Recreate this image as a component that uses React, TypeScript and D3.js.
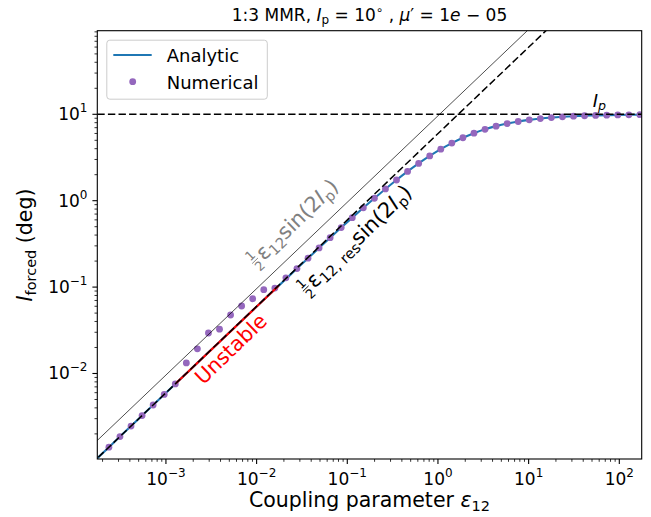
import React from "react";
import * as d3 from "d3";

// ---------- data ----------
// Numerical run: coupling parameter values
const epsilonNum = [
  2.35e-4, 3.112e-4, 4.121e-4, 5.458e-4, 7.228e-4, 9.572e-4, 1.268e-3, 1.679e-3,
  2.223e-3, 2.944e-3, 3.899e-3, 5.164e-3, 6.839e-3, 9.057e-3, 1.1995e-2, 1.589e-2,
  2.104e-2, 2.786e-2, 3.69e-2, 4.887e-2, 6.471e-2, 8.57e-2, 0.1135, 0.1503,
  0.1991, 0.2636, 0.3491, 0.4624, 0.6124, 0.811, 1.074, 1.422,
  1.884, 2.495, 3.304, 4.375, 5.794, 7.674, 10.16, 13.46,
  17.82, 23.61, 31.26, 41.4, 54.83, 72.61, 96.16, 127.4, 168.7,
];
// Numerical forced inclination (deg)
const inclNum = [
  1.404e-3, 1.86e-3, 2.463e-3, 3.262e-3, 4.32e-3, 5.719e-3, 7.571e-3, 1.327e-2,
  1.932e-2, 2.944e-2, 3.258e-2, 4.753e-2, 6.039e-2, 7.328e-2, 9.344e-2, 9.75e-2,
  0.128, 0.1639, 0.216, 0.2841, 0.373, 0.4882, 0.6368, 0.8269,
  1.067, 1.368, 1.737, 2.18, 2.701, 3.294, 3.948, 4.642,
  5.35, 6.044, 6.698, 7.293, 7.817, 8.258, 8.627, 8.927,
  9.167, 9.357, 9.505, 9.619, 9.707, 9.774, 9.826, 9.865, 9.9,
];
// Analytic curve
const epsilonAna = [
  1.75e-4, 2.35e-4, 3.112e-4, 4.121e-4, 5.458e-4, 7.228e-4, 9.572e-4, 1.268e-3, 1.679e-3,
  2.223e-3, 2.944e-3, 3.899e-3, 5.164e-3, 6.839e-3, 9.057e-3, 1.1995e-2, 1.589e-2,
  2.104e-2, 2.786e-2, 3.69e-2, 4.887e-2, 6.471e-2, 8.57e-2, 0.1135, 0.1503,
  0.1991, 0.2636, 0.3491, 0.4624, 0.6124, 0.811, 1.074, 1.422,
  1.884, 2.495, 3.304, 4.375, 5.794, 7.674, 10.16, 13.46,
  17.82, 23.61, 31.26, 41.4, 54.83, 72.61, 96.16, 127.4, 168.7, 176.6,
];
const inclAna = [
  1.046e-3, 1.404e-3, 1.86e-3, 2.463e-3, 3.262e-3, 4.32e-3, 5.719e-3, 7.571e-3, 1.0024e-2,
  1.3271e-2, 1.7567e-2, 2.3252e-2, 3.0773e-2, 4.0717e-2, 5.385e-2, 7.12e-2, 9.408e-2,
  0.1242, 0.1639, 0.216, 0.2841, 0.373, 0.4882, 0.6368, 0.8269,
  1.067, 1.368, 1.737, 2.18, 2.701, 3.294, 3.948, 4.642,
  5.35, 6.044, 6.698, 7.293, 7.817, 8.258, 8.627, 8.927,
  9.167, 9.357, 9.505, 9.619, 9.707, 9.774, 9.826, 9.865, 9.9, 9.903,
];
// Unstable segment on the analytic curve
const epsilonUnstable = [1.3e-3, 1.75e-2];
const inclUnstable = [7.77e-3, 0.1036];
// Reference lines: 1/2 eps sin(2Ip) and 1/2 eps_res sin(2Ip)
const epsilonRef = [1e-4, 1e3];
const inclRefFull = [9.6e-4, 9600];
const inclRefRes = [5.977e-4, 5977];
const inclP = 10; // I_p in degrees

const xDomain = [1.75e-4, 176.6];
const yDomain = [1.024e-3, 92.8];
const xMajorTicks = [1e-3, 1e-2, 1e-1, 1, 10, 100];
const xMajorExp = ["−3", "−2", "−1", "0", "1", "2"];
const yMajorTicks = [1e-2, 1e-1, 1, 10];
const yMajorExp = ["−2", "−1", "0", "1"];

// ---------- layout ----------
const W = 651;
const H = 517;
const L = 97.3;
const R = 641.7;
const T = 30.7;
const B = 459;
const FONT = "DejaVu Sans, sans-serif";

const BLUE = "#1f77b4";
const PURPLE = "#9467bd";

export default function App() {
  const x = d3.scaleLog().domain(xDomain).range([L, R]);
  const y = d3.scaleLog().domain(yDomain).range([B, T]);

  const line = d3
    .line<[number, number]>()
    .x((d) => x(d[0]))
    .y((d) => y(d[1]));
  const smooth = d3
    .line<[number, number]>()
    .x((d) => x(d[0]))
    .y((d) => y(d[1]))
    .curve(d3.curveMonotoneX);

  const anaPts = epsilonAna.map((e, i) => [e, inclAna[i]] as [number, number]);
  const unstablePts = epsilonUnstable.map((e, i) => [e, inclUnstable[i]] as [number, number]);
  const refFull = epsilonRef.map((e, i) => [e, inclRefFull[i]] as [number, number]);
  const refRes = epsilonRef.map((e, i) => [e, inclRefRes[i]] as [number, number]);

  const xMinor = x.ticks().filter((t) => !xMajorTicks.some((m) => Math.abs(m - t) / m < 1e-6));
  const yMinor = y.ticks().filter((t) => !yMajorTicks.some((m) => Math.abs(m - t) / m < 1e-6));

  const dash = "7.4,3.2";
  const ang = -44;

  // annotation anchors (data coords)
  const grayPos = [0.0265, 0.574];
  const blackPos = [0.131, 0.375];
  const unstablePos = [5.2e-3, 0.0192];
  const ipPos = [51, 12.15];

  return (
    <svg width={W} height={H} style={{ display: "block", position: "absolute", left: 0, top: 0 }} fontFamily={FONT}>
      <rect x={0} y={0} width={W} height={H} fill="white" />
      <defs>
        <clipPath id="plotclip">
          <rect x={L} y={T} width={R - L} height={B - T} />
        </clipPath>
      </defs>

      <g clipPath="url(#plotclip)">
        <path d={smooth(anaPts) || ""} fill="none" stroke={BLUE} strokeWidth={2.1} />
        {epsilonNum.map((e, i) => (
          <circle key={i} cx={x(e)} cy={y(inclNum[i])} r={3.4} fill={PURPLE} />
        ))}
        <path d={line(unstablePts) || ""} fill="none" stroke="red" strokeWidth={2.1} />
        <path d={line(refFull) || ""} fill="none" stroke="black" strokeWidth={0.7} />
        <path d={line(refRes) || ""} fill="none" stroke="black" strokeWidth={1.5} strokeDasharray={dash} />
        <line x1={L} x2={R} y1={y(inclP)} y2={y(inclP)} stroke="black" strokeWidth={1.5} strokeDasharray={dash} />
      </g>

      {/* annotations */}
      <g transform={`translate(${x(grayPos[0])},${y(grayPos[1])}) rotate(${ang})`} fill="#808080">
        <text x={-56} y={-2} fontSize={13} textAnchor="middle">1</text>
        <line x1={-60} x2={-52} y1={0.5} y2={0.5} stroke="#808080" strokeWidth={0.9} />
        <text x={-56} y={12} fontSize={13} textAnchor="middle">2</text>
        <text x={-50} y={7} fontSize={21}>
          ε<tspan fontSize={14.7} dy={4}>12</tspan>
          <tspan dy={-4}>sin(2</tspan>
          <tspan fontStyle="italic">I</tspan>
          <tspan fontSize={14.7} dy={4}>p</tspan>
          <tspan dy={-4}>)</tspan>
        </text>
      </g>
      <g transform={`translate(${x(blackPos[0])},${y(blackPos[1])}) rotate(${ang})`} fill="black">
        <text x={-73} y={-2} fontSize={13} textAnchor="middle">1</text>
        <line x1={-77} x2={-69} y1={0.5} y2={0.5} stroke="black" strokeWidth={0.9} />
        <text x={-73} y={12} fontSize={13} textAnchor="middle">2</text>
        <text x={-67} y={7} fontSize={21}>
          ε<tspan fontSize={14.7} dy={4}>12, res</tspan>
          <tspan dy={-4}>sin(2</tspan>
          <tspan fontStyle="italic">I</tspan>
          <tspan fontSize={14.7} dy={4}>p</tspan>
          <tspan dy={-4}>)</tspan>
        </text>
      </g>
      <text
        transform={`translate(${x(unstablePos[0])},${y(unstablePos[1])}) rotate(${ang})`}
        textAnchor="middle"
        dy={7}
        fontSize={20.5}
        fill="red"
      >
        Unstable
      </text>
      <text x={x(ipPos[0])} y={y(ipPos[1])} fontSize={18} fontStyle="italic">
        I<tspan fontSize={12.6} dy={3}>p</tspan>
      </text>

      {/* axes frame */}
      <rect x={L} y={T} width={R - L} height={B - T} fill="none" stroke="black" strokeWidth={1.1} />

      {/* x ticks */}
      {xMinor.map((t, i) => (
        <line key={"xm" + i} x1={x(t)} x2={x(t)} y1={B} y2={B + 2.8} stroke="black" strokeWidth={0.8} />
      ))}
      {xMajorTicks.map((t, i) => (
        <g key={"xM" + i}>
          <line x1={x(t)} x2={x(t)} y1={B} y2={B + 4.9} stroke="black" strokeWidth={1.1} />
          <text x={x(t)} y={485} fontSize={17} textAnchor="middle">
            10<tspan fontSize={12} dy={-8}>{xMajorExp[i]}</tspan>
          </text>
        </g>
      ))}
      {/* y ticks */}
      {yMinor.map((t, i) => (
        <line key={"ym" + i} x1={L - 2.8} x2={L} y1={y(t)} y2={y(t)} stroke="black" strokeWidth={0.8} />
      ))}
      {yMajorTicks.map((t, i) => (
        <g key={"yM" + i}>
          <line x1={L - 4.9} x2={L} y1={y(t)} y2={y(t)} stroke="black" strokeWidth={1.1} />
          <text x={87.5} y={y(t) + 6} fontSize={17} textAnchor="end">
            10<tspan fontSize={12} dy={-8}>{yMajorExp[i]}</tspan>
          </text>
        </g>
      ))}

      {/* axis labels */}
      <text x={(L + R) / 2} y={507} fontSize={20.5} textAnchor="middle">
        Coupling parameter <tspan fontStyle="italic">ε</tspan>
        <tspan fontSize={14.5} dy={4}>12</tspan>
      </text>
      <text transform={`translate(32,245) rotate(-90)`} fontSize={20.5} textAnchor="middle">
        <tspan fontStyle="italic">I</tspan>
        <tspan fontSize={14.5} dy={4}>forced</tspan>
        <tspan dy={-4}> (deg)</tspan>
      </text>

      {/* title */}
      <text x={(L + R) / 2} y={21} fontSize={17} textAnchor="middle">
        1:3 MMR, <tspan fontStyle="italic">I</tspan>
        <tspan fontSize={12} dy={3}>p</tspan>
        <tspan dy={-3}> = 10</tspan>
        <tspan fontSize={12} dy={-7}>∘</tspan>
        <tspan dy={7}> , </tspan>
        <tspan fontStyle="italic">μ</tspan>′ = 1<tspan fontStyle="italic">e</tspan> − 05
      </text>

      {/* legend */}
      <rect x={106.8} y={40.2} width={160.5} height={59} rx={3} fill="white" fillOpacity={0.8} stroke="#cccccc" strokeWidth={1} />
      <line x1={113.3} x2={151.7} y1={55} y2={55} stroke={BLUE} strokeWidth={2.1} />
      <text x={166.7} y={61.7} fontSize={18}>Analytic</text>
      <circle cx={132.7} cy={81.7} r={3.4} fill={PURPLE} />
      <text x={166.7} y={89.3} fontSize={18}>Numerical</text>
    </svg>
  );
}
